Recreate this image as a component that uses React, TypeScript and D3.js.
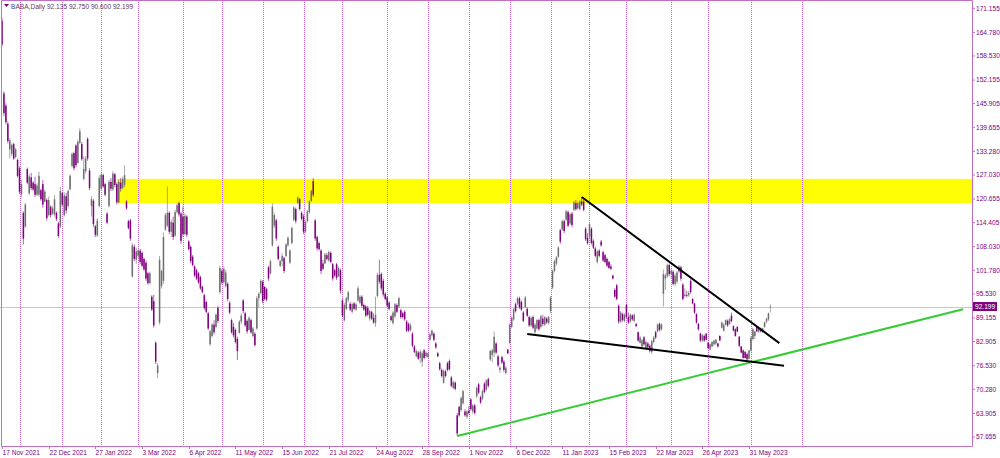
import { useRef, useEffect } from "react";
import * as d3 from "d3";

// open, high, low, close
type Candle = [number, number, number, number];

const nov2021: Candle[] = [
    [167.8, 168.6, 161.2, 161.6], [148.6, 149.2, 142.6, 143.4], [145.4, 146.0, 140.4, 141.0],
    [140.6, 141.2, 135.4, 136.0], [133.8, 136.8, 131.4, 136.2], [132.6, 135.4, 132.0, 135.0],
    [135.2, 135.6, 131.0, 131.4], [131.8, 134.2, 131.4, 133.8], [131.0, 131.4, 126.4, 126.8]
];
const dec2021: Candle[] = [
    [128.8, 129.3, 122.0, 122.6], [122.0, 125.7, 121.2, 124.6], [117.0, 117.4, 108.6, 110.2],
    [113.4, 119.6, 113.0, 119.2], [128.6, 129.0, 124.6, 125.0], [122.2, 127.2, 121.6, 126.6],
    [126.4, 127.6, 123.0, 123.6], [125.0, 125.4, 122.8, 123.2], [124.6, 126.6, 121.2, 121.8],
    [121.8, 124.8, 121.4, 124.2], [121.8, 127.9, 121.2, 126.8], [123.0, 123.4, 120.2, 120.6],
    [124.6, 125.7, 118.4, 119.2], [120.0, 123.2, 119.8, 122.6], [120.4, 120.8, 115.0, 115.6],
    [116.4, 121.3, 116.0, 120.4], [118.6, 119.0, 115.8, 116.4], [116.8, 118.8, 116.4, 118.2],
    [116.6, 121.7, 116.0, 120.6], [117.0, 117.4, 114.8, 115.4], [114.2, 114.6, 110.4, 110.9],
    [113.4, 123.9, 113.0, 122.8]
];
const jan2022: Candle[] = [
    [122.2, 122.6, 118.8, 119.2], [116.4, 122.4, 116.0, 121.6], [121.4, 122.2, 116.8, 117.6],
    [118.8, 123.2, 118.4, 122.8], [123.2, 127.2, 123.0, 126.8], [129.4, 133.0, 129.0, 132.6],
    [132.8, 133.2, 128.2, 128.8], [134.8, 135.2, 129.0, 129.6], [130.2, 136.4, 130.0, 135.8],
    [135.6, 139.4, 135.2, 138.6], [135.2, 135.8, 130.8, 131.2], [126.0, 132.0, 125.6, 128.6],
    [128.0, 132.0, 127.4, 131.4], [136.6, 137.0, 130.8, 131.4], [128.2, 128.8, 123.0, 123.6],
    [118.8, 121.4, 116.0, 120.6], [120.2, 120.6, 113.2, 114.0], [113.4, 113.8, 110.6, 111.2],
    [111.0, 115.6, 110.6, 115.0], [118.8, 127.0, 118.4, 126.2]
];
const feb2022: Candle[] = [
    [123.4, 127.6, 123.0, 127.0], [127.0, 127.4, 123.6, 124.0], [124.6, 125.0, 121.4, 121.8],
    [116.8, 117.2, 114.0, 114.4], [118.8, 125.8, 118.4, 125.2], [125.2, 126.2, 122.8, 123.4],
    [123.2, 128.0, 122.8, 127.4], [127.2, 127.6, 123.8, 124.4], [124.6, 125.0, 119.2, 119.8],
    [119.8, 125.8, 119.4, 125.2], [125.0, 126.2, 122.6, 123.4], [123.6, 126.6, 123.2, 126.0],
    [124.4, 129.6, 123.8, 127.0], [120.0, 120.4, 117.8, 118.2], [114.8, 115.2, 112.6, 113.0],
    [115.0, 115.4, 109.6, 110.2], [100.2, 109.0, 99.8, 108.4], [108.0, 108.6, 104.2, 104.8],
    [104.6, 107.8, 103.4, 106.8]
];
const mar2022: Candle[] = [
    [105.6, 107.4, 105.0, 107.0], [107.0, 107.4, 103.4, 104.0], [106.4, 106.8, 102.6, 103.0],
    [104.8, 105.2, 101.6, 102.0], [103.8, 104.4, 99.0, 99.6], [101.0, 101.4, 98.0, 98.4],
    [98.4, 101.4, 98.0, 101.0], [94.8, 95.2, 91.0, 91.4], [93.6, 95.3, 86.6, 87.2],
    [82.6, 83.0, 77.0, 77.6], [74.6, 77.2, 73.2, 76.6], [88.0, 105.6, 87.4, 104.6],
    [97.6, 102.0, 97.0, 101.6], [99.0, 111.8, 98.2, 110.6], [112.6, 117.0, 112.2, 116.4],
    [113.6, 124.0, 113.2, 117.0], [117.0, 117.4, 111.4, 112.0], [112.0, 115.2, 110.6, 114.6],
    [114.4, 116.0, 109.8, 110.6], [111.0, 117.8, 110.6, 117.2], [117.2, 119.6, 116.8, 119.0],
    [119.6, 120.0, 116.0, 116.6], [116.8, 117.2, 108.8, 109.6]
];
const apr2022: Candle[] = [
    [116.0, 118.6, 110.6, 111.4], [111.4, 116.9, 111.0, 116.2], [116.0, 116.4, 110.6, 111.2],
    [109.4, 109.8, 107.0, 107.4], [108.0, 108.4, 103.6, 104.2], [105.4, 105.8, 102.8, 103.2],
    [102.8, 103.2, 100.0, 100.4], [101.8, 102.2, 99.2, 99.6], [101.0, 101.4, 98.2, 98.6],
    [100.0, 100.4, 96.6, 97.0], [97.4, 97.8, 95.7, 96.0], [95.2, 95.6, 91.3, 91.8],
    [93.4, 93.8, 90.4, 90.8], [90.4, 90.8, 86.0, 86.4], [82.2, 86.0, 81.8, 85.6],
    [84.4, 87.8, 84.0, 87.4], [87.4, 88.6, 84.8, 85.4], [86.8, 90.4, 86.4, 90.0],
    [91.8, 92.4, 87.8, 88.4], [96.0, 103.0, 95.6, 102.4]
];
const may2022: Candle[] = [
    [101.6, 102.2, 98.0, 98.6], [98.6, 102.8, 98.2, 102.2], [97.6, 101.9, 97.2, 101.2],
    [98.2, 98.6, 93.6, 94.2], [93.2, 93.6, 90.2, 90.6], [88.6, 89.0, 85.0, 85.4],
    [86.8, 87.8, 84.0, 84.6], [86.0, 86.4, 82.4, 82.8], [83.6, 84.2, 78.0, 80.4],
    [85.2, 88.6, 85.0, 88.2], [88.2, 90.4, 87.6, 89.8], [93.8, 94.2, 90.4, 91.0],
    [90.4, 90.8, 86.8, 87.2], [88.4, 88.8, 85.0, 85.6], [86.0, 89.6, 85.8, 89.2],
    [88.6, 89.0, 85.0, 85.4], [84.4, 86.8, 84.0, 86.4], [85.0, 85.4, 81.6, 82.0],
    [86.4, 95.0, 86.0, 94.4], [94.4, 96.0, 92.0, 95.6], [95.8, 99.4, 95.4, 99.0]
];
const jun2022: Candle[] = [
    [98.8, 99.2, 93.0, 93.6], [97.4, 97.6, 93.8, 94.2], [96.8, 97.2, 93.6, 94.0],
    [102.6, 103.0, 99.0, 99.6], [101.0, 104.6, 100.6, 104.2], [108.4, 119.6, 108.0, 118.6],
    [113.6, 117.0, 113.0, 116.4], [115.0, 115.4, 109.6, 110.2], [108.0, 108.4, 104.4, 104.8],
    [103.0, 104.6, 102.6, 104.2], [104.2, 106.4, 102.8, 105.6], [105.0, 105.4, 101.0, 101.6],
    [105.6, 109.0, 105.2, 108.6], [108.4, 110.8, 108.0, 110.4], [103.8, 107.4, 103.4, 107.0],
    [109.0, 113.4, 108.6, 113.0], [115.2, 118.8, 114.8, 118.4], [118.0, 118.4, 114.2, 114.8],
    [119.6, 121.4, 119.2, 121.0], [120.6, 121.0, 117.6, 118.0], [117.0, 117.4, 115.0, 115.4]
];
const jul2022: Candle[] = [
    [116.0, 116.6, 111.4, 112.0], [112.0, 115.0, 111.6, 114.6], [114.8, 117.8, 114.4, 117.4],
    [117.2, 120.4, 116.8, 120.0], [120.2, 123.2, 119.8, 122.8], [125.4, 126.2, 121.2, 121.8],
    [115.0, 115.4, 109.6, 110.2], [110.6, 111.0, 107.0, 107.6], [109.0, 109.4, 107.0, 107.4],
    [107.0, 107.4, 100.8, 101.6], [103.6, 104.6, 101.8, 102.2], [103.6, 106.4, 103.4, 106.0],
    [105.8, 106.4, 104.4, 104.8], [104.4, 107.0, 104.0, 106.6], [106.4, 106.8, 103.6, 104.0],
    [103.4, 103.8, 99.0, 99.6], [101.8, 102.2, 100.0, 100.4], [103.4, 103.8, 99.2, 99.8],
    [100.2, 102.8, 100.0, 102.4], [101.8, 102.2, 95.6, 96.4]
];
const aug2022: Candle[] = [
    [93.8, 94.2, 89.4, 89.8], [88.6, 93.2, 88.2, 92.6], [91.6, 94.8, 91.2, 94.4],
    [94.0, 96.4, 93.4, 96.0], [92.9, 93.4, 91.0, 91.4], [90.8, 93.2, 90.4, 92.8],
    [93.0, 93.4, 91.2, 91.6], [91.4, 93.2, 91.0, 92.8], [93.8, 97.6, 93.4, 97.0],
    [93.2, 95.2, 92.8, 94.8], [94.8, 95.2, 92.0, 92.4], [92.6, 93.0, 91.0, 91.4],
    [92.2, 92.6, 89.4, 89.8], [91.8, 92.4, 89.6, 90.0], [89.0, 91.4, 88.4, 91.0],
    [90.8, 91.0, 88.6, 89.0], [89.2, 90.4, 87.6, 88.0], [87.8, 94.8, 86.8, 90.0],
    [95.0, 101.2, 94.6, 100.6], [100.6, 104.6, 98.2, 98.8], [100.8, 101.2, 96.4, 97.0],
    [99.0, 99.6, 94.8, 95.4], [95.6, 96.0, 93.8, 94.2]
];
const sep2022: Candle[] = [
    [94.6, 95.0, 92.0, 92.4], [93.2, 93.6, 91.2, 91.6], [89.6, 90.0, 88.2, 88.6],
    [87.8, 91.0, 87.4, 90.6], [89.6, 93.2, 89.2, 92.8], [92.6, 93.0, 90.4, 90.8],
    [92.2, 94.8, 91.8, 94.4], [91.2, 91.6, 89.0, 89.4], [90.4, 90.8, 89.0, 89.4],
    [90.8, 91.2, 88.4, 88.8], [88.2, 88.6, 85.4, 85.8], [87.6, 88.0, 85.4, 85.8],
    [86.0, 87.8, 85.6, 87.2], [85.0, 85.4, 81.4, 81.8], [81.6, 82.0, 79.8, 80.2],
    [79.0, 80.8, 78.8, 80.4], [80.0, 80.4, 78.0, 78.4], [78.6, 80.8, 77.2, 80.2],
    [77.6, 80.4, 76.2, 79.8], [80.6, 81.0, 78.2, 78.6], [79.0, 80.4, 78.6, 80.0]
];
const oct2022: Candle[] = [
    [78.8, 80.0, 78.4, 79.8], [83.4, 85.2, 83.0, 84.8], [84.6, 86.2, 84.2, 85.8],
    [85.0, 85.4, 83.0, 83.4], [82.4, 82.8, 81.0, 81.4], [79.8, 80.2, 78.8, 79.0],
    [77.2, 77.6, 75.2, 75.6], [75.4, 75.8, 73.4, 73.8], [72.0, 75.6, 71.8, 75.2],
    [75.0, 75.4, 73.4, 73.8], [77.2, 77.6, 75.0, 75.4], [77.8, 78.2, 75.2, 75.6],
    [73.4, 73.8, 70.8, 71.2], [70.6, 72.6, 70.4, 72.2], [72.0, 72.4, 70.0, 70.4],
    [63.4, 64.0, 57.9, 58.6], [65.6, 66.0, 63.0, 63.4], [64.8, 68.4, 64.4, 68.0],
    [66.6, 70.2, 66.2, 69.8], [64.4, 65.0, 63.0, 63.4], [63.0, 64.8, 62.4, 64.4]
];
const nov2022: Candle[] = [
    [64.6, 65.8, 63.6, 64.0], [67.6, 68.0, 64.6, 65.0], [64.4, 66.4, 63.8, 66.0],
    [66.0, 66.4, 63.6, 64.0], [68.4, 71.0, 68.0, 70.6], [71.6, 72.0, 69.0, 69.4],
    [68.2, 68.6, 66.4, 66.8], [67.8, 70.2, 67.4, 69.8], [71.8, 72.2, 69.2, 69.6],
    [70.2, 73.0, 69.8, 72.6], [73.0, 73.4, 70.8, 71.2], [78.2, 80.8, 77.8, 80.4],
    [79.4, 81.0, 77.4, 80.6], [80.0, 85.6, 78.8, 84.2], [82.4, 82.8, 79.6, 80.0],
    [79.0, 79.4, 76.2, 76.6], [75.4, 76.4, 74.6, 76.0], [78.8, 79.2, 77.0, 77.4],
    [77.6, 78.0, 74.8, 75.4], [74.6, 76.4, 74.2, 76.0], [80.8, 81.0, 79.6, 79.8]
];
const dec2022: Candle[] = [
    [82.6, 87.8, 82.2, 87.4], [86.8, 89.6, 86.4, 89.2], [88.8, 91.8, 88.4, 91.4],
    [92.8, 93.2, 90.6, 91.0], [93.0, 94.8, 92.6, 94.4], [94.4, 94.8, 91.6, 92.0],
    [93.4, 93.8, 91.0, 91.4], [90.6, 91.0, 88.0, 88.4], [92.0, 95.0, 91.8, 94.6],
    [91.6, 92.0, 89.4, 89.8], [89.4, 89.8, 86.8, 87.2], [87.2, 89.6, 86.8, 89.2],
    [89.4, 89.8, 86.2, 86.6], [85.4, 87.8, 84.9, 87.4], [86.4, 88.9, 86.0, 88.6],
    [88.6, 89.0, 85.8, 86.2], [86.8, 90.0, 86.4, 89.6], [89.0, 90.0, 87.0, 87.6],
    [87.4, 89.6, 87.0, 89.4], [89.0, 89.4, 87.6, 88.0], [87.8, 89.8, 87.4, 89.4]
];
const jan2023: Candle[] = [
    [91.0, 95.0, 90.4, 94.6], [97.2, 102.0, 96.8, 101.6], [101.6, 104.6, 101.2, 104.2],
    [103.6, 105.6, 103.0, 105.2], [105.4, 108.2, 105.0, 107.8], [112.4, 112.8, 108.8, 109.4],
    [112.6, 115.2, 112.2, 114.8], [114.8, 115.2, 111.6, 112.2], [115.2, 117.8, 114.8, 117.4],
    [117.2, 117.6, 113.2, 113.6], [114.2, 117.0, 113.8, 116.6], [116.8, 117.2, 113.2, 113.8],
    [117.8, 120.2, 117.4, 119.8], [119.6, 120.4, 117.6, 118.0], [118.2, 120.0, 117.8, 119.6],
    [118.0, 120.4, 117.6, 120.0], [120.0, 121.2, 118.8, 119.2], [120.0, 120.4, 117.4, 117.8],
    [112.8, 113.2, 109.6, 110.0], [110.4, 111.6, 108.6, 109.0]
];
const feb2023: Candle[] = [
    [110.6, 114.4, 110.0, 114.0], [112.8, 113.2, 108.6, 109.0], [109.6, 110.0, 107.4, 107.8],
    [107.6, 108.0, 105.2, 105.6], [104.0, 107.2, 103.6, 106.8], [107.0, 107.4, 105.2, 105.6],
    [109.4, 109.8, 108.0, 108.4], [106.6, 107.0, 104.0, 104.4], [105.8, 106.2, 103.6, 104.0],
    [104.8, 105.2, 102.6, 103.0], [104.0, 104.4, 102.2, 102.4], [102.8, 103.4, 101.8, 102.2],
    [100.4, 100.6, 99.4, 99.6], [96.6, 97.0, 94.6, 94.8], [97.8, 98.2, 93.8, 94.2],
    [92.4, 92.8, 87.6, 88.2], [88.2, 91.0, 87.8, 90.6], [90.2, 90.6, 88.2, 88.6],
    [88.4, 90.4, 88.0, 90.0]
];
const mar2023: Candle[] = [
    [92.6, 93.0, 89.0, 89.4], [89.4, 90.6, 87.6, 88.0], [88.2, 90.4, 87.8, 90.0],
    [89.8, 90.2, 88.4, 88.8], [88.4, 90.4, 88.0, 90.0], [87.6, 87.8, 86.8, 87.0],
    [85.4, 85.6, 82.8, 83.2], [82.6, 84.4, 82.4, 84.0], [81.6, 83.6, 81.2, 83.2],
    [84.0, 84.4, 81.8, 82.2], [81.2, 83.2, 80.8, 82.8], [82.4, 82.8, 81.0, 81.4],
    [81.8, 82.2, 80.0, 80.4], [80.2, 83.4, 79.6, 83.0], [82.8, 84.4, 82.4, 84.0],
    [85.4, 85.8, 83.6, 84.0], [85.6, 87.8, 85.4, 87.4], [87.6, 88.0, 85.6, 86.0],
    [86.2, 87.8, 85.8, 87.4], [95.6, 102.0, 92.2, 100.8], [99.6, 101.0, 96.6, 100.4],
    [100.2, 103.6, 99.8, 103.2], [103.2, 103.6, 100.2, 100.8]
];
const apr2023: Candle[] = [
    [100.8, 102.2, 99.6, 101.6], [101.4, 101.8, 97.8, 98.2], [98.2, 101.0, 97.6, 100.4],
    [98.8, 101.6, 98.2, 101.2], [101.4, 103.2, 101.0, 102.8], [102.6, 103.0, 99.0, 99.6],
    [98.0, 98.4, 93.8, 94.2], [95.0, 97.0, 94.6, 95.4], [95.2, 96.4, 94.6, 95.0],
    [95.2, 96.4, 94.8, 95.8], [99.0, 99.4, 95.6, 96.0], [94.2, 94.4, 92.8, 93.0],
    [93.0, 93.2, 90.2, 90.6], [90.2, 90.4, 87.6, 88.0], [87.6, 87.8, 85.8, 86.2],
    [85.0, 85.2, 82.8, 83.2], [83.2, 85.0, 82.8, 84.6], [84.4, 84.8, 82.8, 83.2],
    [85.0, 85.2, 83.2, 83.4]
];
const may2023: Candle[] = [
    [82.6, 82.8, 81.0, 81.2], [80.8, 82.4, 80.6, 82.2], [81.6, 83.0, 81.4, 82.8],
    [82.2, 83.4, 81.8, 83.2], [82.4, 83.6, 82.0, 83.4], [82.4, 82.6, 81.4, 81.6],
    [84.4, 84.6, 83.0, 83.2], [86.6, 88.2, 86.4, 88.0], [85.8, 87.8, 85.6, 87.4],
    [87.4, 88.8, 87.2, 88.6], [88.4, 88.8, 86.8, 87.2], [87.6, 89.2, 87.4, 88.8],
    [89.8, 90.6, 88.0, 88.4], [87.0, 87.2, 85.6, 85.8], [86.2, 86.4, 84.2, 84.4],
    [86.8, 87.0, 85.4, 85.6], [84.2, 84.4, 81.4, 81.8], [81.6, 81.8, 79.8, 80.0],
    [80.6, 80.8, 78.4, 78.6], [80.2, 80.4, 78.4, 78.6], [79.6, 80.0, 77.9, 78.2],
    [78.4, 80.8, 78.2, 80.6]
];
const jun2023: Candle[] = [
    [80.6, 84.4, 80.2, 84.0], [83.6, 86.6, 83.2, 86.2], [84.4, 85.8, 83.6, 85.6],
    [86.8, 87.0, 85.4, 85.6], [85.6, 86.8, 85.2, 86.6], [86.4, 86.6, 85.4, 85.6],
    [85.6, 86.6, 85.2, 86.4], [86.8, 88.2, 86.6, 88.0], [88.2, 89.2, 87.8, 89.0],
    [88.8, 90.6, 88.4, 90.4], [92.135, 92.75, 90.6, 92.199]
];

// months in order; a period separator is drawn where each month starts
const months: Candle[][] = [
    nov2021, dec2021, jan2022, feb2022, mar2022, apr2022, may2022, jun2022, jul2022, aug2022,
    sep2022, oct2022, nov2022, dec2022, jan2023, feb2023, mar2023, apr2023, may2023, jun2023
];
const futureSeparatorBar = 411;

const dateLabels = [
    "17 Nov 2021", "22 Dec 2021", "27 Jan 2022", "3 Mar 2022", "6 Apr 2022", "11 May 2022",
    "15 Jun 2022", "21 Jul 2022", "24 Aug 2022", "28 Sep 2022", "1 Nov 2022", "6 Dec 2022",
    "11 Jan 2023", "15 Feb 2023", "22 Mar 2023", "26 Apr 2023", "31 May 2023"
];
const barsPerLabel = 24;

const priceTicks = [
    "171.155", "164.780", "158.530", "152.155", "145.905", "139.655", "133.280", "127.030",
    "120.655", "114.405", "108.030", "101.780", "95.530", "89.155", "82.905", "76.530",
    "70.280", "63.905", "57.655"
];

const symbol = "BABA,Daily";
const lastBar = ["92.135", "92.750", "90.600", "92.199"];

// resistance zone: [start bar, low price, high price]
const zone: [number, number, number] = [59, 119.6, 126.0];

// trend lines: [bar, price] -> [bar, price]
const blackLines: [number, number, number, number][] = [
    [298, 121.2, 399.6, 82.5],
    [270, 84.9, 402, 76.5]
];
const greenLine: [number, number, number, number] = [234, 57.9, 494, 91.5];

const W = 1000;
const H = 458;
const plotRight = 972;
const plotBottom = 446;
const frameColor = "#c070c0";
const textColor = "#800080";
const upColor = "#6e6e6e";
const downColor = "#800080";
const font = "'Liberation Sans', Arial, sans-serif";

export default function App() {
    const svgRef = useRef<SVGSVGElement>(null);

    useEffect(() => {
        const svg = d3.select<SVGSVGElement, unknown>(svgRef.current as SVGSVGElement);
        svg.selectAll("*").remove();

        const candles: Candle[] = months.flat();

        // one bar every ~1.945 px, label 16 (31 May 2023 = bar 384) sits at x 749
        const xScale = d3.scaleLinear().domain([0, 384]).range([2, 749]);
        const yScale = d3.scaleLinear().domain([57.655, 171.155]).range([437, 8.3]);

        svg.append("rect").attr("width", W).attr("height", H).attr("fill", "#ffffff");

        // yellow zone (behind candles)
        svg.append("rect")
            .attr("x", xScale(zone[0]))
            .attr("y", yScale(zone[2]))
            .attr("width", plotRight - xScale(zone[0]))
            .attr("height", yScale(zone[1]) - yScale(zone[2]))
            .attr("fill", "#ffff00");

        // period separators
        const starts: number[] = [];
        let acc = 0;
        months.forEach((m, i) => {
            if (i > 0) starts.push(acc);
            acc += m.length;
        });
        starts.push(futureSeparatorBar);

        svg.append("g")
            .selectAll("line")
            .data(starts)
            .join("line")
            .attr("x1", d => Math.round(xScale(d)) + 0.5)
            .attr("x2", d => Math.round(xScale(d)) + 0.5)
            .attr("y1", 0)
            .attr("y2", plotBottom)
            .attr("stroke", "#cc66cc")
            .attr("stroke-width", 1)
            .attr("stroke-dasharray", "1,1");

        // bid line
        const lastClose = +lastBar[3];
        svg.append("line")
            .attr("x1", 0).attr("x2", plotRight)
            .attr("y1", Math.round(yScale(lastClose)) + 0.5)
            .attr("y2", Math.round(yScale(lastClose)) + 0.5)
            .attr("stroke", "#c8c8c8");

        // candles
        const g = svg.append("g")
            .selectAll("g")
            .data(candles)
            .join("g")
            .attr("transform", (_d, i) => `translate(${xScale(i)},0)`);

        g.append("line")
            .attr("y1", d => yScale(d[1]))
            .attr("y2", d => yScale(d[2]))
            .attr("stroke", d => (d[3] >= d[0] ? upColor : downColor))
            .attr("stroke-opacity", 0.75)
            .attr("stroke-width", 0.8);

        g.append("rect")
            .attr("x", -0.75)
            .attr("width", 1.5)
            .attr("y", d => yScale(Math.max(d[0], d[3])))
            .attr("height", d => Math.max(0.8, Math.abs(yScale(d[0]) - yScale(d[3]))))
            .attr("fill", d => (d[3] >= d[0] ? upColor : downColor));

        // trend lines
        const line = d3.line<[number, number]>()
            .x(d => xScale(d[0]))
            .y(d => yScale(d[1]));

        svg.append("path")
            .attr("d", line([[greenLine[0], greenLine[1]], [greenLine[2], greenLine[3]]]))
            .attr("stroke", "#33cc33")
            .attr("stroke-width", 2)
            .attr("fill", "none");

        blackLines.forEach(l => {
            svg.append("path")
                .attr("d", line([[l[0], l[1]], [l[2], l[3]]]))
                .attr("stroke", "#000000")
                .attr("stroke-width", 2)
                .attr("fill", "none");
        });

        // frame
        svg.append("path")
            .attr("d", `M1.5,0.5 H${plotRight + 0.5} V${plotBottom + 0.5} H1.5 Z`)
            .attr("fill", "none")
            .attr("stroke", frameColor);

        // price axis
        const yAxis = svg.append("g");
        priceTicks.forEach(t => {
            const y = yScale(+t);
            yAxis.append("line")
                .attr("x1", plotRight).attr("x2", plotRight + 3)
                .attr("y1", y).attr("y2", y)
                .attr("stroke", frameColor);
            yAxis.append("text")
                .attr("x", plotRight + 4)
                .attr("y", y)
                .attr("dy", "0.35em")
                .attr("font-family", font)
                .attr("font-size", "6.6px")
                .attr("fill", textColor)
                .text(t);
        });

        // last price marker
        const ly = yScale(lastClose);
        svg.append("rect")
            .attr("x", plotRight + 1)
            .attr("y", ly - 4.5)
            .attr("width", 24)
            .attr("height", 9)
            .attr("fill", "#800080");
        svg.append("text")
            .attr("x", plotRight + 3)
            .attr("y", ly)
            .attr("dy", "0.35em")
            .attr("font-family", font)
            .attr("font-size", "6.6px")
            .attr("fill", "#ffffff")
            .text(lastBar[3]);

        // time axis
        const xAxis = svg.append("g");
        dateLabels.forEach((t, i) => {
            const x = Math.round(xScale(i * barsPerLabel)) + 0.5;
            xAxis.append("line")
                .attr("x1", x).attr("x2", x)
                .attr("y1", plotBottom).attr("y2", plotBottom + 3)
                .attr("stroke", frameColor);
            xAxis.append("text")
                .attr("x", x)
                .attr("y", plotBottom + 8.5)
                .attr("font-family", font)
                .attr("font-size", "6.6px")
                .attr("fill", textColor)
                .text(t);
        });

        // header
        svg.append("path")
            .attr("d", "M4,4 L9,4 L6.5,7 Z")
            .attr("fill", "#800080");
        svg.append("text")
            .attr("x", 11)
            .attr("y", 9)
            .attr("font-family", font)
            .attr("font-size", "6.6px")
            .attr("fill", "#5a3a6a")
            .text(`${symbol}  ${lastBar.join(" ")}`);
    }, []);

    return (
        <svg
            ref={svgRef}
            width={W}
            height={H}
            style={{ position: "absolute", left: 0, top: 0, display: "block" }}
        />
    );
}
